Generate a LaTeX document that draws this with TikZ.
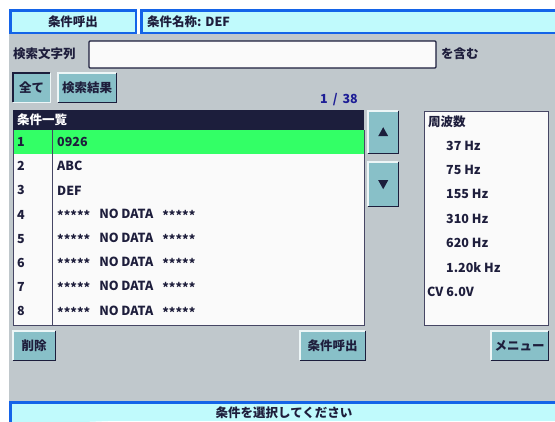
\documentclass[tikz,border=0pt]{standalone}
\usepackage{fontspec}
\setmainfont{Noto Sans CJK JP}
\definecolor{panel}{RGB}{192,200,204}
\definecolor{cyanbar}{RGB}{192,250,252}
\definecolor{barblue}{RGB}{20,100,232}
\definecolor{btnfill}{RGB}{136,192,200}
\definecolor{ink}{RGB}{30,30,60}
\definecolor{headnavy}{RGB}{28,30,60}
\definecolor{rowgreen}{RGB}{51,255,102}
\definecolor{pageblue}{RGB}{30,30,150}
\definecolor{edge}{RGB}{70,70,100}

\begin{document}
\begin{tikzpicture}[x=1pt,y=-1pt,
  every node/.style={font=\bfseries\fontsize{12.5}{14}\selectfont,text=ink,inner sep=0pt},
  bar/.style={draw=barblue,line width=2.6pt,fill=cyanbar},
  btn/.style={anchor=north west,fill=btnfill},
  lite/.style={white!85!btnfill,line width=1.4pt},
  dark/.style={headnavy,line width=1.6pt},
  pane/.style={fill=white!98!black,draw=edge,line width=1pt}]
   \def\stars{\raisebox{-0.3ex}{*****}}
   \useasboundingbox (0,0) rectangle (555,421);
   \fill[white] (0,0) rectangle (555,421);
   \fill[panel] (9,34) rectangle (555,421);
   % title bar
   \draw[bar] (10.5,10.5) rectangle (136,33);
   \draw[bar] (141.5,10.5) rectangle (557,33);
   \node (title) at (73,22) {条件呼出};
   \node[anchor=west] (cname) at (147,22) {条件名称: DEF};
   % search line
   \node[anchor=west] (find) at (13,54) {検索文字列};
   \draw[fill=white!98!black,draw=headnavy,line width=1.4pt,rounded corners=1pt] (89,41) rectangle (436,68);
   \node[anchor=west] (incl) at (441,54) {を含む};
   \node[btn,minimum width=37,minimum height=29] (all) at (13,73) {全て};
   \node[btn,minimum width=58,minimum height=29] (res) at (58,73) {検索結果};
   \node[text=pageblue] (page) at (339,100) {1 \,/\, 38};
   % condition list
   \fill[headnavy] (13,110) rectangle (364,130);
   \node[anchor=west,text=white] (lhead) at (17,120) {条件一覧};
   \draw[pane] (13,130) rectangle (364,325);
   \fill[rowgreen] (13.5,130) rectangle (363.5,154);
   \draw[edge,line width=1pt] (52,130) -- (52,325);
   \foreach \i/\t in {1/0926,2/ABC,3/DEF,4/,5/,6/,7/,8/} {
     \node[anchor=west] (n\i) at (17,{142+(\i-1)*24.2}) {\i};
     \node[anchor=west] (t\i) at (57,{142+(\i-1)*24.2})
       {\ifx\t\empty\stars\hspace{9pt}NO DATA\hspace{9pt}\stars\else\t\fi};
   }
   \node[btn,minimum width=30,minimum height=42] (up) at (368,111) {};
   \node[btn,minimum width=30,minimum height=44] (down) at (368,162) {};
   \fill[headnavy] ([shift={(0,-5)}]up.center) -- ([shift={(5,4)}]up.center) -- ([shift={(-5,4)}]up.center) -- cycle;
   \fill[headnavy] ([shift={(0,5)}]down.center) -- ([shift={(5,-4)}]down.center) -- ([shift={(-5,-4)}]down.center) -- cycle;
   % frequency panel
   \draw[pane] (424,111) rectangle (548,325);
   \node[anchor=west] (fhead) at (428,122) {周波数};
   \foreach \i/\f in {0/37 Hz,1/75 Hz,2/155 Hz,3/310 Hz,4/620 Hz,5/1.20k Hz} {
     \node[anchor=west] (f\i) at (446,{145.5+\i*24.4}) {\f};
   }
   \node[anchor=west] (cv) at (427,292) {CV 6.0V};
   % bottom buttons
   \node[btn,minimum width=42,minimum height=29] (del) at (13,331) {削除};
   \node[btn,minimum width=65,minimum height=29] (call) at (300,331) {条件呼出};
   \node[btn,minimum width=57,minimum height=29] (menu) at (491,331) {メニュー};
   \foreach \b in {res,up,down,del,call,menu} {
     \draw[lite] (\b.south west) -- (\b.north west) -- (\b.north east);
     \draw[dark] (\b.north east) -- (\b.south east) -- (\b.south west);
   }
   \draw[dark] (all.south west) -- (all.north west) -- (all.north east);
   \draw[lite] (all.north east) -- (all.south east) -- (all.south west);
   % status bar
   \draw[bar] (10.5,425) |- (557,402.5);
   \fill[cyanbar] (11.8,403.8) rectangle (555,421);
   \node (status) at (284,413) {条件を選択してください};
\end{tikzpicture}
\end{document}
